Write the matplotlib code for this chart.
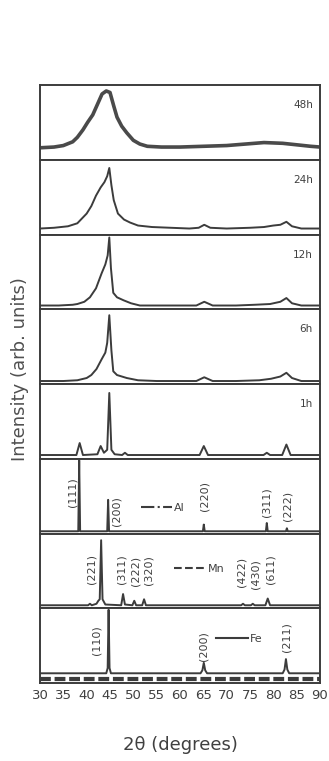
import numpy as np
import matplotlib
matplotlib.use('Agg')
import matplotlib.pyplot as plt
from matplotlib.lines import Line2D
from matplotlib import font_manager

# panel labels, top to bottom
panels = ['48h', '24h', '12h', '6h', '1h', 'Al', 'Mn', 'Fe']

# patterns: 2theta (deg) and intensity (fraction of panel height)
x_48h = [30, 33, 35, 37, 38, 39.2, 40.2, 41.3, 42.3, 43.3, 44.2, 45, 45.8, 46.5, 47.5,
         48.6, 50, 51.4, 53, 56, 60, 65, 70, 74, 78, 82, 85, 88, 90]
y_48h = [0.16, 0.17, 0.19, 0.24, 0.30, 0.40, 0.50, 0.60, 0.74, 0.88, 0.92, 0.90, 0.72, 0.57, 0.45,
         0.36, 0.26, 0.21, 0.18, 0.17, 0.17, 0.18, 0.19, 0.21, 0.23, 0.22, 0.20, 0.18, 0.17]

x_24h = [30, 33, 36, 38, 40, 41, 42, 43, 43.8, 44.4, 44.85, 45.3, 45.8, 46.7, 48, 49.3, 51, 54,
         58, 62, 64, 65.2, 66.5, 70, 75, 78, 80, 81.5, 82.8, 84, 86, 90]
y_24h = [0.08, 0.09, 0.11, 0.15, 0.28, 0.38, 0.52, 0.63, 0.70, 0.78, 0.89, 0.66, 0.46, 0.28, 0.20,
         0.16, 0.12, 0.10, 0.09, 0.08, 0.09, 0.13, 0.09, 0.08, 0.09, 0.10, 0.12, 0.13, 0.17, 0.11,
         0.08, 0.08]

x_12h = [30, 34, 37, 38, 39.5, 40.7, 42, 43.2, 44, 44.5, 44.85, 45.2, 45.7, 46.5, 47.9, 49.5,
         51.4, 55, 60, 63.5, 65.2, 67, 72, 76, 79.3, 81.5, 82.8, 84, 86, 90]
y_12h = [0.05, 0.05, 0.06, 0.07, 0.10, 0.16, 0.28, 0.48, 0.60, 0.72, 0.96, 0.55, 0.22, 0.16,
         0.12, 0.08, 0.05, 0.05, 0.05, 0.05, 0.10, 0.05, 0.05, 0.06, 0.07, 0.10, 0.15, 0.08,
         0.05, 0.05]

x_6h = [30, 35, 38, 40, 41, 42.1, 43.2, 44, 44.4, 44.85, 45.3, 45.7, 46.5, 48.6, 51, 55, 60,
        63.5, 65.2, 67, 72, 77, 79.5, 81.5, 82.8, 84, 86, 90]
y_6h = [0.04, 0.04, 0.05, 0.08, 0.12, 0.20, 0.33, 0.42, 0.55, 0.92, 0.45, 0.17, 0.12, 0.08,
        0.05, 0.04, 0.04, 0.04, 0.09, 0.04, 0.04, 0.05, 0.07, 0.10, 0.15, 0.08, 0.04, 0.04]

x_1h = [30, 37.8, 38.5, 39.2, 42.3, 43.0, 43.7, 44.4, 44.85, 45.3, 46, 47.6, 48.2, 48.8, 55,
        64.2, 65.1, 66, 77.9, 78.6, 79.3, 81.9, 82.8, 83.7, 90]
y_1h = [0.05, 0.05, 0.21, 0.05, 0.06, 0.17, 0.08, 0.12, 0.88, 0.12, 0.06, 0.05, 0.08, 0.05,
        0.05, 0.05, 0.17, 0.05, 0.05, 0.08, 0.05, 0.05, 0.19, 0.05, 0.05]

x_al = [30, 38.2, 38.4, 38.6, 44.4, 44.6, 44.8, 64.9, 65.1, 65.3, 78.4, 78.6, 78.8, 82.7,
        82.9, 83.1, 90]
y_al = [0.03, 0.03, 0.98, 0.03, 0.03, 0.45, 0.03, 0.03, 0.12, 0.03, 0.03, 0.14, 0.03, 0.03,
        0.07, 0.03, 0.03]

x_mn = [30, 40.3, 40.7, 41.1, 42.1, 42.5, 42.8, 43.1, 43.4, 44, 47.4, 47.8, 48.2, 49.8, 50.2,
        50.6, 51.9, 52.3, 52.7, 73.1, 73.5, 73.9, 75.2, 75.6, 76, 78.3, 78.8, 79.3, 90]
y_mn = [0.04, 0.04, 0.06, 0.04, 0.06, 0.10, 0.12, 0.91, 0.12, 0.05, 0.04, 0.19, 0.05, 0.04,
        0.10, 0.04, 0.04, 0.12, 0.04, 0.04, 0.06, 0.04, 0.04, 0.06, 0.04, 0.04, 0.13, 0.04, 0.04]

x_fe = [30, 44.2, 44.5, 44.7, 44.9, 45.2, 64.4, 64.8, 65.1, 65.4, 65.8, 82.0, 82.4, 82.7,
        83.0, 83.4, 90]
y_fe = [0.13, 0.13, 0.20, 0.98, 0.20, 0.13, 0.13, 0.17, 0.27, 0.17, 0.13, 0.13, 0.18, 0.32,
        0.18, 0.13, 0.13]

xs = [x_48h, x_24h, x_12h, x_6h, x_1h, x_al, x_mn, x_fe]
ys = [y_48h, y_24h, y_12h, y_6h, y_1h, y_al, y_mn, y_fe]

# Miller index labels: (text, 2theta, height in panel)
hkl_al = [('(111)', 36.9, 0.55), ('(200)', 46.4, 0.30), ('(220)', 65.2, 0.50),
          ('(311)', 78.6, 0.42), ('(222)', 83.0, 0.37)]
hkl_mn = [('(221)', 41.1, 0.53), ('(311)', 47.4, 0.53), ('(222)', 50.5, 0.50),
          ('(320)', 53.3, 0.51), ('(422)', 73.1, 0.48), ('(430)', 76.1, 0.46),
          ('(611)', 79.5, 0.53)]
hkl_fe = [('(110)', 42.2, 0.57), ('(200)', 65.1, 0.50), ('(211)', 82.9, 0.62)]

xticks = list(range(30, 95, 5))

ink = '#3c3c3c'
txt = '#404040'

# narrow face for the numbers if one is around
names = {f.name for f in font_manager.fontManager.ttflist}
narrow = 'Liberation Sans Narrow' if 'Liberation Sans Narrow' in names else 'DejaVu Sans'

fig = plt.figure(figsize=(3.29, 7.61), dpi=100)
left, right = 40 / 329, 320 / 329
top, bottom = 1 - 85 / 761, 1 - 683 / 761
h = (top - bottom) / len(panels)

axes = []
for i, name in enumerate(panels):
    ax = fig.add_axes([left, top - (i + 1) * h, right - left, h])
    if name == '48h':
        ax.plot(xs[i], ys[i], color='#4a4a4a', lw=2.6, solid_joinstyle='round')
    else:
        ax.plot(xs[i], ys[i], color=ink, lw=1.4, solid_joinstyle='round')
    ax.set_xlim(30, 90)
    ax.set_ylim(0, 1)
    ax.set_yticks([])
    ax.set_xticks(xticks)
    ax.tick_params(axis='x', length=0, labelbottom=False)
    for s in ax.spines.values():
        s.set_color(ink)
        s.set_linewidth(1.4)
    if name.endswith('h'):
        ax.text(0.975, 0.73, name, transform=ax.transAxes, ha='right', va='center',
                fontsize=7.5, color=txt, family=narrow)
    axes.append(ax)

def put_hkl(ax, labels):
    for t, xv, yv in labels:
        ax.text(xv, yv, t, rotation=90, ha='center', va='center', fontsize=8,
                color=txt, transform=ax.get_xaxis_transform())

put_hkl(axes[5], hkl_al)
put_hkl(axes[6], hkl_mn)
put_hkl(axes[7], hkl_fe)

# reference keys
keys = [(axes[5], '-.', 'Al', 0.36, 0.34), (axes[6], '--', 'Mn', 0.48, 0.52),
        (axes[7], '-', 'Fe', 0.63, 0.59)]
for ax, ls, lab, kx, ky in keys:
    hd = Line2D([], [], color=ink, ls=ls, lw=1.5)
    ax.legend([hd], [lab], loc='center left', bbox_to_anchor=(kx, ky), frameon=False,
              borderpad=0, borderaxespad=0, handlelength=2.8, handletextpad=0.2,
              prop={'size': 8, 'family': narrow}, labelcolor=txt)

# dashed strip along the bottom of the lowest panel
axb = axes[-1]
axb.axhline(0.05, color=ink, lw=3, dashes=(2.6, 0.9))
axb.tick_params(axis='x', labelbottom=True, labelsize=9.5, labelcolor=txt, pad=4)
for lab in axb.get_xticklabels():
    lab.set_family(narrow)

fig.text(180 / 329, 1 - 745 / 761, '2θ (degrees)', ha='center', va='center',
         fontsize=13, color=txt, family=narrow)
fig.text(20 / 329, 1 - 369 / 761, 'Intensity (arb. units)', rotation=90, ha='center',
         va='center', fontsize=13, color='#505050')

fig.savefig('out.png', dpi=100)
